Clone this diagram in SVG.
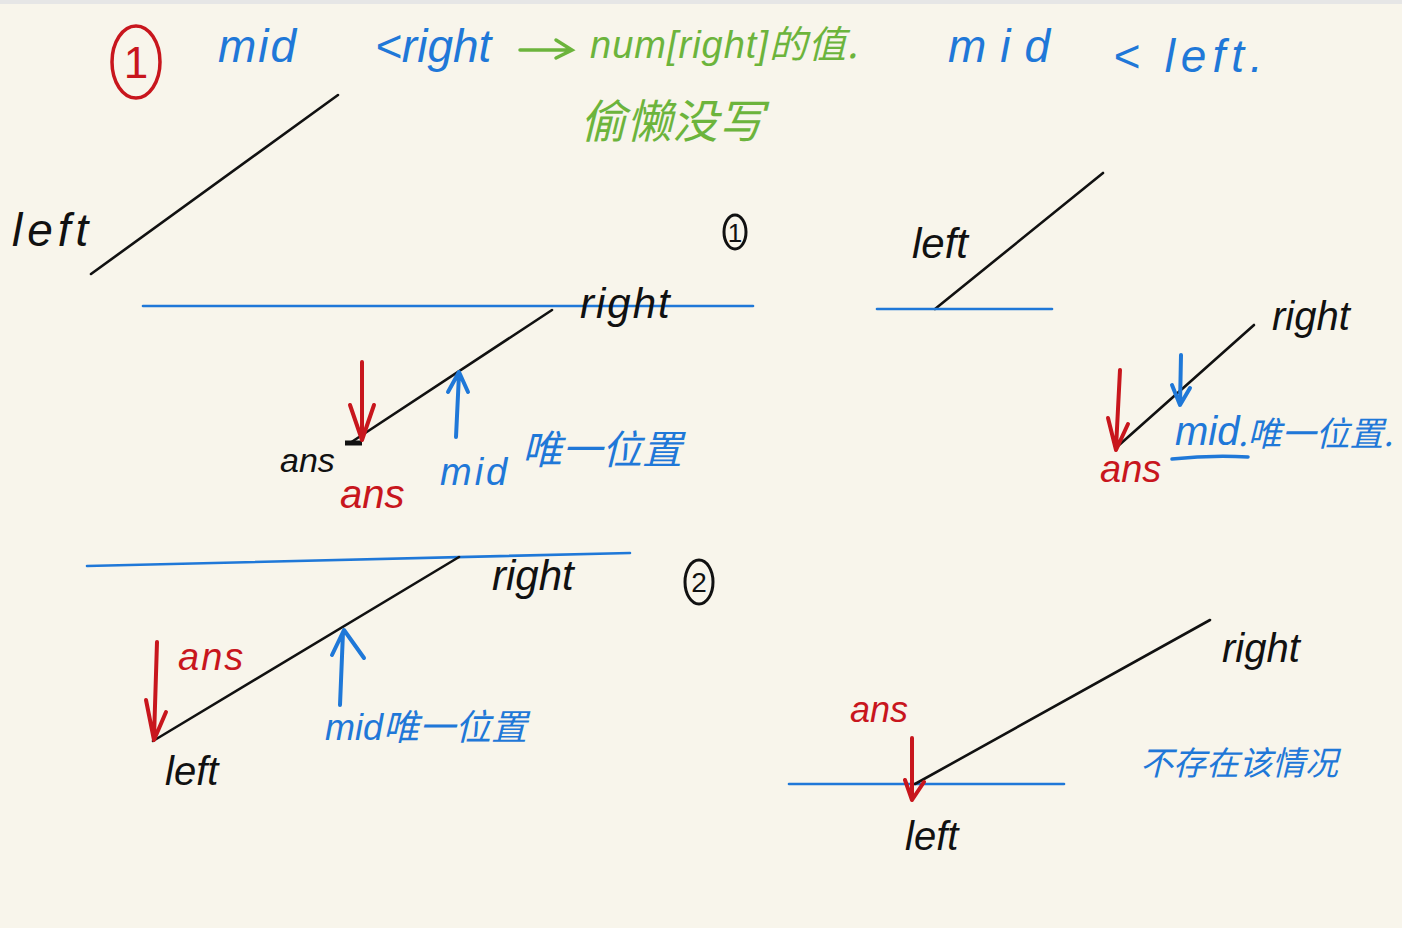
<svg xmlns="http://www.w3.org/2000/svg" width="1402" height="928" viewBox="0 0 1402 928">
<style>
.bg{fill:#f8f5eb}
.k{stroke:#111;stroke-width:2.6;fill:none;stroke-linecap:round}
.b{stroke:#1f78d8;stroke-width:2.6;fill:none;stroke-linecap:round}
.ra{stroke:#c8161d;stroke-width:4;fill:none;stroke-linecap:round;stroke-linejoin:round}
.ba{stroke:#1f78d8;stroke-width:4;fill:none;stroke-linecap:round;stroke-linejoin:round}
text{font-family:"Liberation Sans","Noto Sans CJK SC",sans-serif}
.tk{fill:#111;font-style:italic}
.tb{fill:#1f78d8;font-style:italic}
.tr{fill:#c8161d;font-style:italic}
.tg{fill:#6cb43c;font-style:italic}
.cj{font-family:"Noto Sans CJK SC",sans-serif}
.num{text-anchor:middle}
</style>
<rect class="bg" x="0" y="0" width="1402" height="928"/>
<rect x="0" y="0" width="1402" height="4" fill="#e6e6e6"/>

<g id="title">
<ellipse cx="136" cy="62" rx="24" ry="36" fill="none" stroke="#c8161d" stroke-width="3.5"/>
<text class="num" x="136" y="78" font-size="44" fill="#c8161d">1</text>
<text class="tb" x="218" y="62" font-size="46" letter-spacing="2">mid</text>
<text class="tb" x="375" y="62" font-size="46">&lt;right</text>
<path d="M520 50 L570 50 M556 40 L572 50 L556 58" stroke="#6cb43c" stroke-width="3.5" fill="none" stroke-linecap="round"/>
<text class="tg" x="590" y="58" font-size="38" letter-spacing="1">num[right]<tspan class="cj">的值.</tspan></text>
<text class="tb" x="948" y="62" font-size="46" letter-spacing="14">mid</text>
<text class="tb" x="1113" y="72" font-size="46" letter-spacing="6">&lt; left.</text>
<text class="tg cj" x="580" y="138" font-size="46">偷懒没写</text>
</g>

<g id="case1">
<line class="k" x1="91" y1="274" x2="338" y2="95"/>
<text class="tk" x="12" y="246" font-size="46" letter-spacing="5">left</text>
<ellipse cx="735" cy="232" rx="11" ry="17" fill="none" stroke="#111" stroke-width="3"/>
<text class="num" x="735" y="242" font-size="26" fill="#111">1</text>
<line class="b" x1="143" y1="306" x2="753" y2="306"/>
<text class="tk" x="580" y="318" font-size="42" letter-spacing="2">right</text>
<line class="k" x1="350" y1="443" x2="552" y2="310"/>
<line x1="345" y1="443" x2="362" y2="443" stroke="#111" stroke-width="5"/>
<path class="ra" d="M362 362 L362 438 M350 405 L362 440 L374 405"/>
<text class="tk" x="280" y="472" font-size="34">ans</text>
<text class="tr" x="340" y="508" font-size="40">ans</text>
<path class="ba" d="M456 437 L459 374 M448 392 L459 372 L468 392"/>
<text class="tb" x="440" y="485" font-size="38" letter-spacing="3">mid</text>
<text class="tb cj" x="522" y="464" font-size="40">唯一位置</text>
</g>

<g id="case1b">
<line class="k" x1="935" y1="309" x2="1103" y2="173"/>
<line class="b" x1="877" y1="309" x2="1052" y2="309"/>
<text class="tk" x="912" y="258" font-size="42">left</text>
<line class="k" x1="1118" y1="446" x2="1254" y2="325"/>
<text class="tk" x="1272" y="330" font-size="40">right</text>
<path class="ra" d="M1120 370 L1116 448 M1108 418 L1116 450 L1128 424"/>
<path class="ba" d="M1181 355 L1180 405 M1172 385 L1180 405 L1190 388"/>
<text class="tb" x="1175" y="445" font-size="40">mid</text>
<path d="M1172 459 Q1210 455 1248 457" stroke="#1f78d8" stroke-width="3.5" fill="none" stroke-linecap="round"/>
<text class="tb cj" x="1238" y="446" font-size="34">.唯一位置.</text>
<text class="tr" x="1100" y="482" font-size="38">ans</text>
</g>

<g id="case2">
<line class="b" x1="87" y1="566" x2="630" y2="553"/>
<ellipse cx="699" cy="582" rx="14" ry="22" fill="none" stroke="#111" stroke-width="3"/>
<text class="num" x="699" y="592" font-size="28" fill="#111">2</text>
<line class="k" x1="153" y1="741" x2="459" y2="557"/>
<text class="tk" x="492" y="590" font-size="42">right</text>
<text class="tr" x="178" y="670" font-size="38" letter-spacing="2">ans</text>
<path class="ra" d="M157 642 L154 738 M146 700 L154 740 L166 712"/>
<path class="ba" d="M340 705 L343 632 M332 655 L344 630 L364 658"/>
<text class="tb" x="325" y="740" font-size="36">mid<tspan class="cj">唯一位置</tspan></text>
<text class="tk" x="165" y="785" font-size="40">left</text>
</g>

<g id="case3">
<line class="b" x1="789" y1="784" x2="1064" y2="784"/>
<line class="k" x1="915" y1="784" x2="1210" y2="620"/>
<text class="tk" x="1222" y="662" font-size="40">right</text>
<text class="tr" x="850" y="722" font-size="36">ans</text>
<path class="ra" d="M912 738 L912 800 M905 780 L912 800 L924 782"/>
<text class="tk" x="905" y="850" font-size="40">left</text>
<text class="tb cj" x="1140" y="775" font-size="33">不存在该情况</text>
</g>
</svg>
